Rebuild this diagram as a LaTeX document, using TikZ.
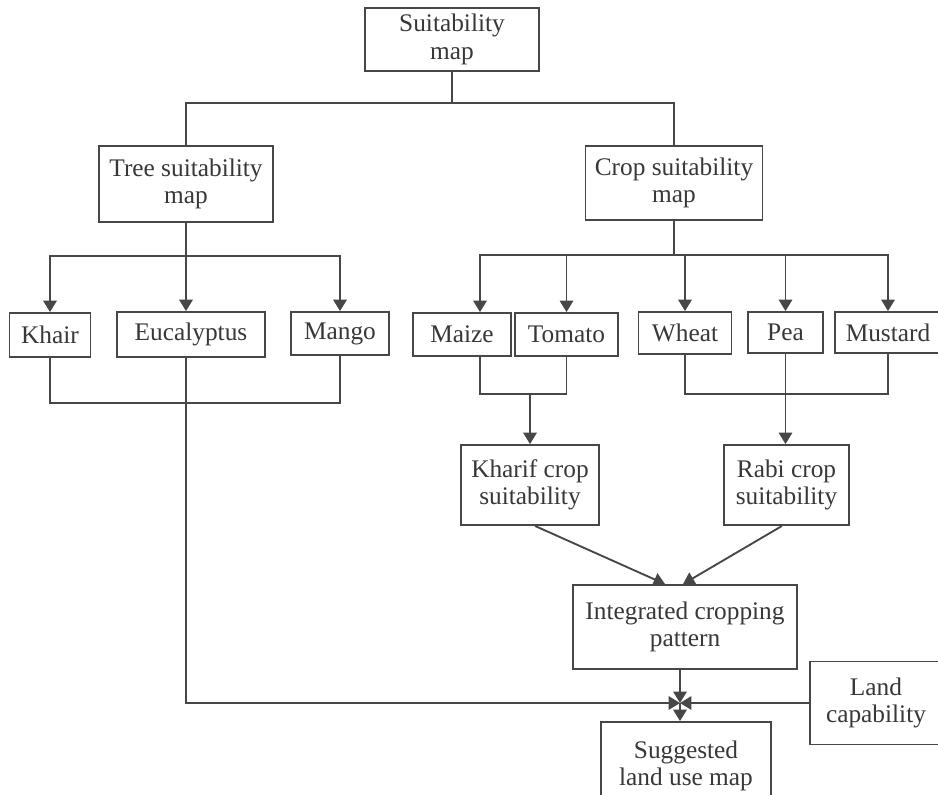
\documentclass[tikz,border=0pt]{standalone}
\usepackage{fontspec}
\setmainfont{Liberation Serif}
\usepackage{tikz}
\usetikzlibrary{positioning}
\usetikzlibrary{arrows.meta}

\tikzset{
  box/.style={draw=black!72, line width=1.4pt, fill=white, align=center, inner sep=0pt,
    text=black!78, font=\fontsize{19}{20.5}\selectfont},
  wh/.style 2 args={minimum width=#1*0.75pt, minimum height=#2*0.75pt},
  line/.style={draw=black!72, line width=1.4pt},
  arr/.style={line, -{Triangle[width=10pt,length=8.5pt]}}
}

\begin{document}
\begin{tikzpicture}[x=0.75pt,y=-0.75pt]
     \path[use as bounding box, clip] (0,0) rectangle (938,795);
     \node[box, wh={174}{63}] (suit) at (452,39.5) {Suitability\\map};
     \node[box, wh={174}{76}] (tree) at (186,184) {Tree suitability\\map};
     \node[box, wh={177}{74}] (crop) at (674,183) {Crop suitability\\map};
     \node[box, wh={81}{44}] (khair) at (50,335) {Khair};
     \node[box, wh={148}{45}] (euca) at (191,334.5) {Eucalyptus};
     \node[box, wh={98}{43}] (mango) at (340,333.5) {Mango};
     \node[box, wh={98}{43}] (maize) at (462,334.5) {Maize};
     \node[box, wh={103}{43}] (tomato) at (566.5,334.5) {Tomato};
     \node[box, wh={93}{42}] (wheat) at (685,333) {Wheat};
     \node[box, wh={75}{41}] (pea) at (785.5,332.5) {Pea};
     \node[box, wh={106}{41}] (mustard) at (888,332.5) {Mustard};
     \node[box, wh={138}{80}] (kharif) at (530,485) {Kharif crop\\suitability};
     \node[box, wh={125}{80}] (rabi) at (786.5,485) {Rabi crop\\suitability};
     \node[box, wh={224}{84}] (integ) at (685,627) {Integrated cropping\\pattern};
     \node[box, wh={132}{83}] (land) at (876,703) {Land\\capability};
     \node[box, wh={170}{88}] (sugg) at (686,766) {Suggested\\land use map};
     \coordinate (junc) at (680,703);

     \draw[line] (suit.south) -- ++(0,31) coordinate (sj) -| (tree.north);
     \draw[line] (sj) -| (crop.north);

     \draw[line] (tree.south) -- ++(0,33) coordinate (tj);
     \draw[arr] (tj) -| (khair.north);
     \draw[arr] (tj) -- (tj |- euca.north);
     \draw[arr] (tj) -| (mango.north);
     \draw[line] (khair.south) -- ++(0,45) -| (mango.south);
     \draw[arr] (tree.south |- euca.south) |- (junc);

     \draw[line] (crop.south) -- ++(0,34) coordinate (cj);
     \draw[arr] (cj) -| ([xshift=13.5pt]maize.north);
     \draw[arr] (cj) -| (tomato.north);
     \draw[arr] (cj) -| (wheat.north);
     \draw[arr] (cj) -| (pea.north);
     \draw[arr] (cj) -| (mustard.north);

     \draw[line] ([xshift=13.5pt]maize.south) -- ++(0,37) coordinate (mt) -| (tomato.south);
     \draw[arr] (mt -| kharif.north) -- (kharif.north);
     \draw[line] (wheat.south) -- ++(0,39) -| (mustard.south);
     \draw[arr] (pea.south) -- (pea.south |- rabi.north);

     \draw[arr] ([xshift=3.75pt]kharif.south) -- ([xshift=-15pt]integ.north);
     \draw[arr] ([xshift=-3.4pt]rabi.south) -- ([xshift=-1.5pt]integ.north);
     \draw[arr] (integ.south -| junc) -- (junc);
     \draw[arr] (land.west) -- (junc);
     \draw[arr] (junc) -- (junc |- sugg.north);
\end{tikzpicture}
\end{document}
